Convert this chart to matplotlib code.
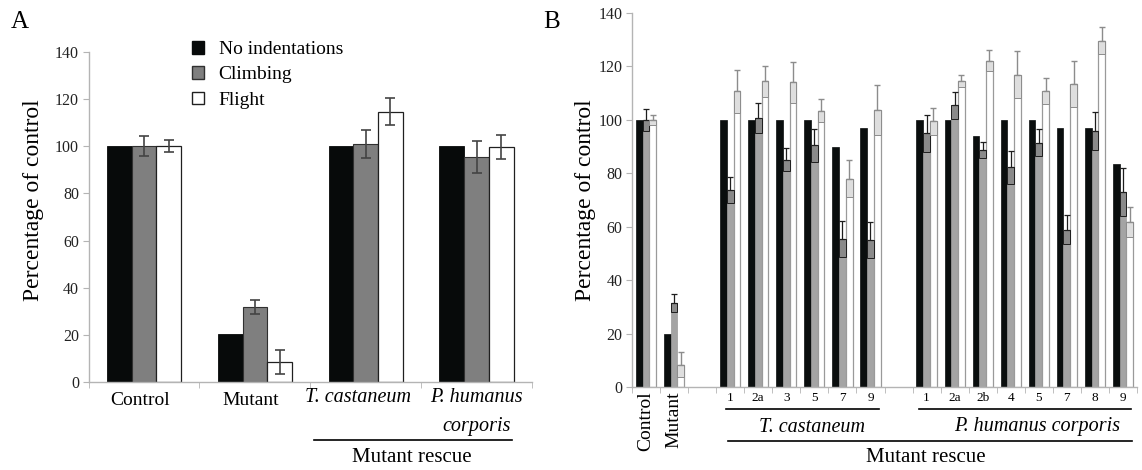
import numpy as np
import matplotlib
matplotlib.use("Agg")
import matplotlib.pyplot as plt
from matplotlib.patches import Patch
from matplotlib.lines import Line2D
import matplotlib.transforms as mtransforms

plt.rcParams['font.family'] = ['Liberation Serif', 'DejaVu Serif']

# ---------------- data ----------------
series = ["No indentations", "Climbing", "Flight"]

# Panel A
cats_A = ["Control", "Mutant", "T. castaneum", "P. humanus corporis"]
noind_A = [100, 20.5, 100, 100]
climb_A = [100, 32, 101, 95.5]
climb_A_err = [4.3, 3, 5.8, 6.7]
flight_A = [100, 8.4, 114.6, 99.7]
flight_A_err = [2.6, 5.2, 5.7, 5.1]

# Panel B (categories in order; blanks are gaps)
cats_B = ["Control", "Mutant", "",
          "1", "2a", "3", "5", "7", "9", "",
          "1", "2a", "2b", "4", "5", "7", "8", "9"]
noind_B = [100, 20, None,
           100, 100, 100, 100, 90, 97, None,
           100, 100, 94, 100, 100, 97, 97, 83.4]
climb_B = [100, 31.3, None,
           73.7, 100.7, 85.1, 90.5, 55.5, 55, None,
           94.9, 105.5, 88.7, 82.2, 91.5, 58.9, 95.9, 73]
climb_B_err = [4, 3.4, None,
               5, 5.6, 4.4, 6.2, 6.8, 6.8, None,
               7, 5, 2.9, 6.3, 5, 5.3, 7, 8.9]
flight_B = [100, 8.3, None,
            110.7, 114.4, 114, 103.5, 78, 103.7, None,
            99.5, 114.5, 122.2, 116.9, 110.8, 113.5, 129.6, 61.8]
flight_B_err = [2, 4.7, None,
                8, 5.8, 7.7, 4.3, 6.9, 9.2, None,
                5, 2.3, 4, 8.7, 5, 8.7, 5, 5.6]

# ---------------- figure ----------------
W, H = 1142, 470
fig = plt.figure(figsize=(W / 100, H / 100), dpi=100)


def fx(x):
    return x / W


def fy(y):
    return 1 - y / H


SPINE = '#b4b4b4'
BLACK = '#070a0a'

# ================= Panel A =================
axA = fig.add_axes([fx(88.6), fy(382), fx(532) - fx(88.6), fy(52) - fy(382)])
xa = np.arange(len(cats_A))
wA = 0.223
axA.bar(xa - wA, noind_A, wA, color=BLACK, edgecolor=BLACK, linewidth=0.6,
        label=series[0], zorder=2)
axA.bar(xa, climb_A, wA, color='#7f7f7f', edgecolor='#303030', linewidth=0.8,
        label=series[1], zorder=2)
axA.bar(xa + wA, flight_A, wA, color='white', edgecolor='#202020', linewidth=0.9,
        label=series[2], zorder=2)
axA.errorbar(xa, climb_A, yerr=climb_A_err, fmt='none', ecolor='#444444',
             elinewidth=1.2, capsize=3.5, capthick=1.2, zorder=3)
axA.errorbar(xa + wA, flight_A, yerr=flight_A_err, fmt='none', ecolor='#444444',
             elinewidth=1.2, capsize=3.5, capthick=1.2, zorder=3)

axA.set_xlim(-0.5, len(cats_A) - 0.5)
axA.set_ylim(0, 140)
axA.set_yticks(np.arange(0, 141, 20))
for s in ['top', 'right']:
    axA.spines[s].set_visible(False)
for s in ['left', 'bottom']:
    axA.spines[s].set_color(SPINE)
    axA.spines[s].set_linewidth(1.0)
axA.tick_params(axis='y', direction='out', length=4, color=SPINE,
                labelsize=11.5, labelcolor='#222222', pad=3)
axA.set_xticks(xa[:2])
axA.set_xticklabels(cats_A[:2], fontsize=14)
axA.tick_params(axis='x', which='major', length=0, pad=7)
axA.set_xticks(np.arange(-0.5, len(cats_A), 1.0), minor=True)
axA.tick_params(axis='x', which='minor', direction='out', length=4, color=SPINE)
off = mtransforms.ScaledTranslation(-4 / 100, 0, fig.dpi_scale_trans)
for lab in axA.get_xticklabels():
    lab.set_transform(lab.get_transform() + off)

# italic category labels
fig.text(fx(358), fy(398), cats_A[2], fontsize=14.5, style='italic',
         ha='center', va='center')
fig.text(fx(476), fy(398), "P. humanus", fontsize=14.5, style='italic',
         ha='center', va='center')
fig.text(fx(511), fy(426), "corporis", fontsize=14.5, style='italic',
         ha='right', va='center')
fig.add_artist(Line2D([fx(314), fx(512)], [fy(440), fy(440)], color='black', lw=1.2))
fig.text(fx(412), fy(457), "Mutant rescue", fontsize=15, ha='center', va='center')

fig.text(fx(34), fy(200), "Percentage of control", fontsize=17, rotation=90,
         ha='center', va='center')
fig.text(fx(20), fy(22), "A", fontsize=18, ha='center', va='center')

handles = [Patch(facecolor=BLACK, edgecolor=BLACK),
           Patch(facecolor='#7f7f7f', edgecolor='#303030'),
           Patch(facecolor='white', edgecolor='#202020')]
leg = axA.legend(handles, series, loc='upper left',
                 bbox_to_anchor=(fx(192), fy(41)), bbox_transform=fig.transFigure,
                 frameon=False, fontsize=14, handlelength=0.62, handleheight=0.62,
                 handletextpad=0.75, labelspacing=0.42, borderpad=0, borderaxespad=0)

# ================= Panel B =================
axB = fig.add_axes([fx(632), fy(387), fx(1137) - fx(632), fy(13) - fy(387)])
idx = [i for i, c in enumerate(cats_B) if c != ""]
xb = np.array(idx, dtype=float)


def pick(arr):
    return np.array([arr[i] for i in idx], dtype=float)


nb, cb, cbe, fb, fbe = (pick(noind_B), pick(climb_B), pick(climb_B_err),
                        pick(flight_B), pick(flight_B_err))
wB = 0.24
axB.bar(xb - wB, nb, wB, color='#0a0e0e', edgecolor='#0a0e0e', linewidth=0.5, zorder=2)
axB.bar(xb, cb, wB, color='#a4a4a4', edgecolor='#9a9a9a', linewidth=0.5, zorder=2)
axB.bar(xb + wB, fb, wB, color='white', edgecolor='#9a9a9a', linewidth=0.9, zorder=2)
# error boxes (lower half) + whiskers (upper half)
axB.bar(xb, cbe, wB, bottom=cb - cbe, color='#8a8a8a', edgecolor='#1e1e1e',
        linewidth=0.7, zorder=3)
axB.errorbar(xb, cb, yerr=[np.zeros_like(cbe), cbe], fmt='none', ecolor='#1e1e1e',
             elinewidth=0.9, capsize=2.5, capthick=0.9, zorder=3)
axB.bar(xb + wB, fbe, wB, bottom=fb - fbe, color='#dedede', edgecolor='#8c8c8c',
        linewidth=0.7, zorder=3)
axB.errorbar(xb + wB, fb, yerr=[np.zeros_like(fbe), fbe], fmt='none', ecolor='#8c8c8c',
             elinewidth=1.0, capsize=2.5, capthick=1.0, zorder=3)

axB.set_xlim(-0.5, len(cats_B) - 0.5)
axB.set_ylim(0, 140)
axB.set_yticks(np.arange(0, 141, 20))
for s in ['top', 'right']:
    axB.spines[s].set_visible(False)
for s in ['left', 'bottom']:
    axB.spines[s].set_color(SPINE)
    axB.spines[s].set_linewidth(1.0)
axB.tick_params(axis='y', direction='out', length=4, color=SPINE,
                labelsize=11.5, labelcolor='#222222', pad=3)
axB.set_xticks(xb)
axB.set_xticklabels([cats_B[i] for i in idx])
axB.tick_params(axis='x', which='major', length=0, pad=3.5)
for lab in axB.get_xticklabels():
    if lab.get_text() in ("Control", "Mutant"):
        lab.set_rotation(90)
        lab.set_fontsize(14)
        lab.set_va('top')
        lab.set_ha('center')
    else:
        lab.set_fontsize(9.5)
axB.set_xticks(np.arange(-0.5, len(cats_B), 1.0), minor=True)
axB.tick_params(axis='x', which='minor', direction='out', length=4, color=SPINE)

fig.text(fx(585), fy(200), "Percentage of control", fontsize=17, rotation=90,
         ha='center', va='center')
fig.text(fx(552), fy(22), "B", fontsize=18, ha='center', va='center')

fig.add_artist(Line2D([fx(726), fx(879)], [fy(409), fy(409)], color='black', lw=1.2))
fig.add_artist(Line2D([fx(919), fx(1131)], [fy(409), fy(409)], color='black', lw=1.2))
fig.text(fx(812), fy(427), "T. castaneum", fontsize=14.5, style='italic',
         ha='center', va='center')
fig.text(fx(1037), fy(427), "P. humanus corporis", fontsize=14.5, style='italic',
         ha='center', va='center')
fig.add_artist(Line2D([fx(728), fx(1132)], [fy(441), fy(441)], color='black', lw=1.2))
fig.text(fx(926), fy(458), "Mutant rescue", fontsize=15, ha='center', va='center')

fig.savefig("out.png", dpi=100)
